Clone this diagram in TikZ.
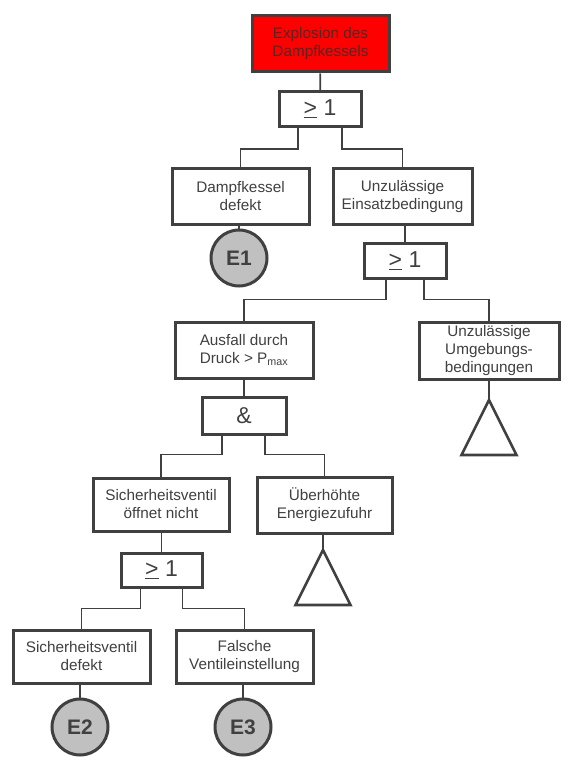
\documentclass[tikz,border=0pt]{standalone}
\usepackage{fontspec}
\setmainfont{Liberation Sans}
\definecolor{ink}{HTML}{404040}
\definecolor{topred}{HTML}{FF0000}
\definecolor{toptext}{HTML}{552626}
\definecolor{basicgrey}{HTML}{C0C0C0}

\begin{document}
\begin{tikzpicture}[x=1pt,y=-1pt,every node/.style={font=\fontsize{15.3}{18}\selectfont,text=ink},box/.style={draw=ink,line width=3pt,fill=white,align=center,minimum width=137pt,minimum height=55pt,inner sep=0pt},gate/.style={box,minimum width=82pt,minimum height=35pt,font=\fontsize{23}{23}\selectfont},basic/.style={circle,draw=ink,line width=3pt,fill=basicgrey,minimum size=56pt,inner sep=0pt,font=\fontsize{21}{21}\selectfont\bfseries},link/.style={draw=ink,line width=1.7pt},undev/.style={draw=ink,line width=2.6pt,line join=miter}]
\useasboundingbox (0,0) rectangle (570,767);
\node[box,fill=topred,text=toptext,minimum height=56pt] (top) at (320.5,44) {Explosion des\\Dampfkessels};
\node[gate] (g1) at (320,109) {\underline{>} 1};
\node[box] (dk) at (240.5,196.5) {Dampfkessel\\defekt};
\node[box,minimum width=139pt] (ue) at (402.5,196.5) {Unzulässige\\Einsatzbedingung};
\node[basic] (e1) at (239,258) {E1};
\node[gate] (g2) at (405,260.5) {\underline{>} 1};
\node[box,minimum width=138pt,minimum height=56pt] (ad) at (244,350) {Ausfall durch\\Druck > P\textsubscript{max}};
\node[box,minimum width=140pt,minimum height=57pt] (ug) at (489,350.5) {Unzulässige\\Umgebungs-\\bedingungen};
\node[gate,minimum width=84pt,minimum height=37pt] (and) at (244,415.5) {\&};
\node[box,minimum width=136pt,minimum height=53pt] (sv) at (161,504.5) {Sicherheitsventil\\öffnet nicht};
\node[box,minimum width=135pt,minimum height=56pt] (eh) at (324.5,505) {Überhöhte\\Energiezufuhr};
\node[gate,minimum width=81pt,minimum height=34pt] (g3) at (161.5,570) {\underline{>} 1};
\node[box,minimum height=53pt] (sd) at (81.5,656.5) {Sicherheitsventil\\defekt};
\node[box,minimum height=53pt] (fv) at (244.5,656.5) {Falsche\\Ventileinstellung};
\node[basic] (e2) at (80,727) {E2};
\node[basic] (e3) at (243,727) {E3};
% undeveloped events
\coordinate (t1) at (489,400);
\coordinate (t2) at (323,550);
\foreach \t in {t1,t2}{\draw[undev] (\t) -- ++(27.5,55) -- ++(-55,0) -- cycle;}
% straight links
\draw[link] (top) -- (g1);
\draw[link] (g2.north) -- (g2.north |- ue.south);
\draw[link] (ad) -- (and);
\draw[link] (g3.north) -- (g3.north |- sv.south);
\draw[link] (ug.south) -- (t1); \draw[link] (eh.south -| t2) -- (t2);
\foreach \b/\e in {dk/e1,sd/e2,fv/e3}{\draw[link] (\e.north |- \b.south) -- (\e.north);}
% gate outputs
\draw[link] ([xshift=-22pt]g1.south) -- ++(0,21) -| (dk.north); \draw[link] ([xshift=22pt]g1.south) -- ++(0,21) -| (ue.north);
\draw[link] ([xshift=-19pt]g2.south) -- ++(0,20) -| (ad.north); \draw[link] ([xshift=19pt]g2.south) -- ++(0,20) -| (ug.north);
\draw[link] ([xshift=-22pt]and.south) -- ++(0,19) -| (sv.north); \draw[link] ([xshift=21pt]and.south) -- ++(0,19) -| (eh.north);
\draw[link] ([xshift=-21pt]g3.south) -- ++(0,20) -| (sd.north); \draw[link] ([xshift=21pt]g3.south) -- ++(0,20) -| (fv.north);
\end{tikzpicture}
\end{document}
